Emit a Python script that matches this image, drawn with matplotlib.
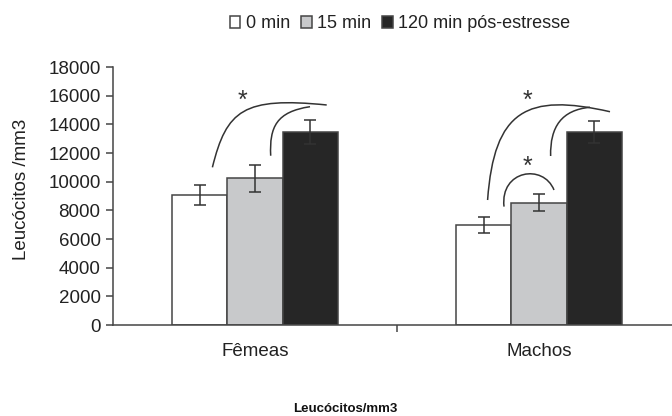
import matplotlib
matplotlib.use("Agg")
import matplotlib.pyplot as plt
from matplotlib.path import Path
from matplotlib.patches import PathPatch
import numpy as np

plt.rcParams['font.family'] = ['Liberation Sans', 'DejaVu Sans']

categories = ['Fêmeas', 'Machos']
series = ['0 min', '15 min', '120 min pós-estresse']
means_0 = [9070, 6980]
means_15 = [10250, 8540]
means_120 = [13450, 13450]
err_0 = [700, 560]
err_15 = [940, 600]
err_120 = [840, 750]
yticks = [0, 2000, 4000, 6000, 8000, 10000, 12000, 14000, 16000, 18000]

fills = ['#ffffff', '#c8c9cb', '#262626']
edge = '#454545'
dark = '#333333'

fig = plt.figure(figsize=(6.72, 4.16), dpi=100)
ax = fig.add_axes([113/672, 1-325/416, (681-113)/672, (325-67)/416])

x = np.arange(len(categories))
w = 0.194
all_means = [means_0, means_15, means_120]
all_err = [err_0, err_15, err_120]
handles = []
for i, (m, e) in enumerate(zip(all_means, all_err)):
    pos = x + (i - 1) * w
    b = ax.bar(pos, m, width=w, color=fills[i], edgecolor=edge, linewidth=1.1,
               label=series[i], zorder=2)
    ax.errorbar(pos, m, yerr=e, fmt='none', ecolor=dark, elinewidth=1.1,
                capsize=4, capthick=1.1, zorder=3)
    handles.append(b)

ax.set_xlim(-0.5, 1.5)
ax.set_ylim(0, 18000)
ax.set_yticks(yticks)
ax.set_yticklabels([str(t) for t in yticks], fontsize=13.5, color='#222222')
ax.set_xticks([0.5])
ax.set_xticklabels([''])
ax.set_xticks(x, minor=True)
ax.set_xticklabels(categories, minor=True, fontsize=13.5, color='#222222')
ax.tick_params(axis='x', which='minor', length=0, pad=13)
ax.tick_params(axis='x', which='major', length=5, width=1.1, color=edge, direction='out')
ax.tick_params(axis='y', length=5, width=1.1, color=edge, direction='out', pad=4)
for s in ['top', 'right']:
    ax.spines[s].set_visible(False)
for s in ['left', 'bottom']:
    ax.spines[s].set_color(edge)
    ax.spines[s].set_linewidth(1.1)
ax.set_ylabel('Leucócitos /mm3', fontsize=13.5, color='#222222')
ax.yaxis.set_label_coords(-0.146, 0.527)

# significance brackets (cubic Bezier curves, data coordinates)
curves = [
    [(-0.150, 11000), (-0.100, 15000), (-0.041, 15930), (0.2525, 15350)],
    [(0.0553, 11810), (0.0504, 13840), (0.0764, 14880), (0.1937, 15230)],
    [(0.819, 8720), (0.842, 15000), (0.9567, 16200), (1.25, 14880)],
    [(1.041, 11790), (1.0387, 13840), (1.080, 15000), (1.1796, 15190)],
    [(0.8768, 8260), (0.8627, 10814), (1.0152, 11279), (1.0528, 9420)],
]
for c in curves:
    p = Path(c, [Path.MOVETO, Path.CURVE4, Path.CURVE4, Path.CURVE4])
    ax.add_patch(PathPatch(p, fill=False, edgecolor=dark, linewidth=1.1, zorder=4))

stars = [(-0.043, 15150), (0.960, 15150), (0.960, 10550)]
for sx, sy in stars:
    ax.text(sx, sy, '*', fontsize=18, ha='center', va='baseline', color=dark)

fig.legend(handles, series, loc='center', bbox_to_anchor=(400/672, 1-24/416),
           ncol=3, frameon=False, handlelength=0.6, handleheight=0.6,
           handletextpad=0.3, columnspacing=0.6, fontsize=13,
           labelcolor='#222222')

fig.text(345/672, 1/416, 'Leucócitos/mm3', fontsize=9.5, fontweight='bold',
         ha='center', va='bottom', color='#111111')

fig.savefig('out.png', dpi=100)
